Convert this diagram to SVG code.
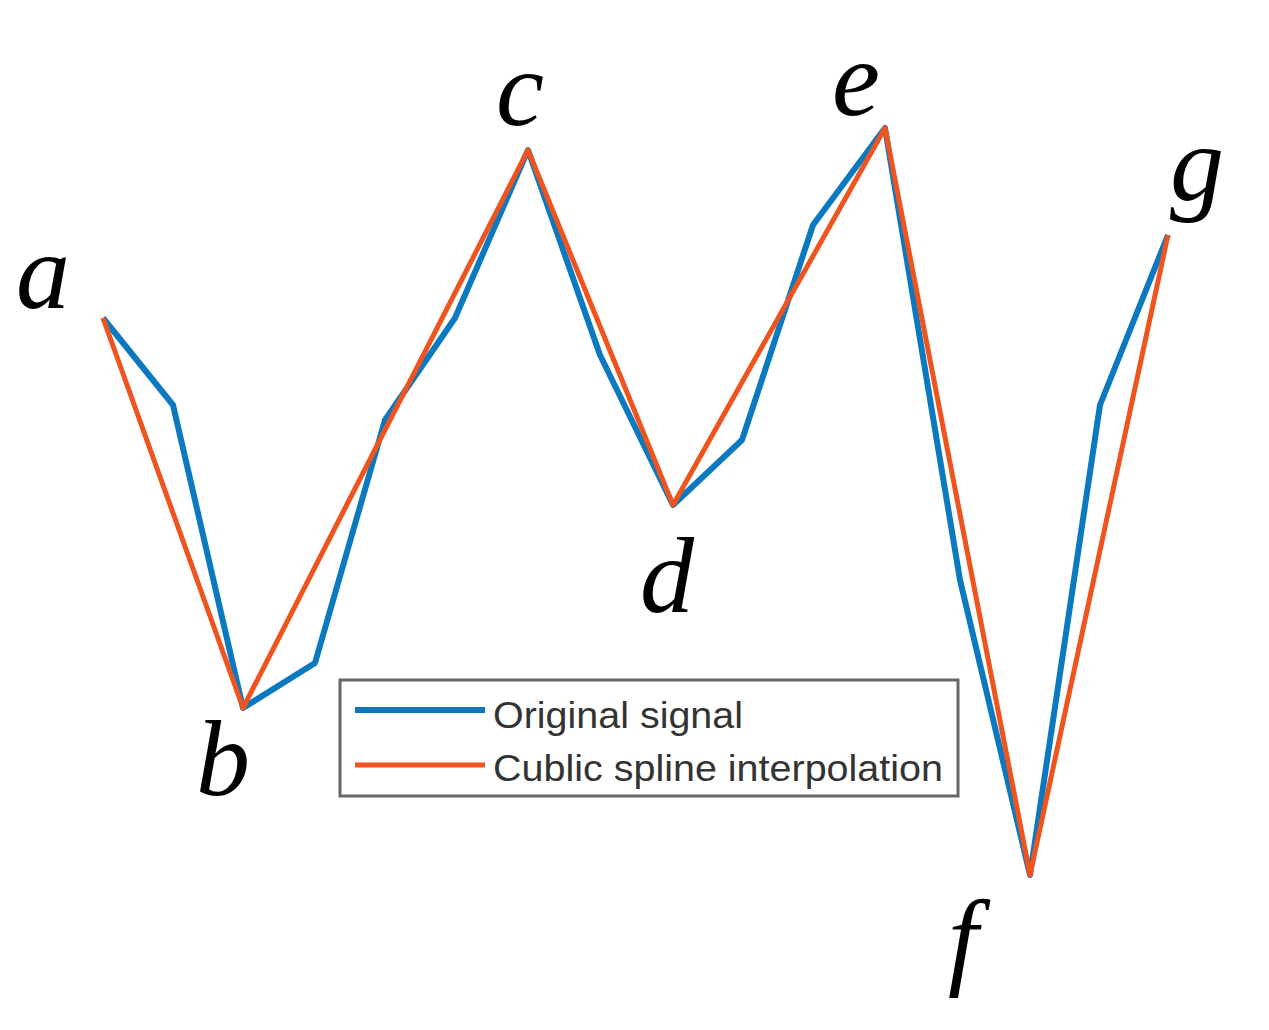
<svg xmlns="http://www.w3.org/2000/svg" width="1269" height="1030" viewBox="0 0 1269 1030">
<style>
.l{font-family:"Liberation Serif",serif;font-style:italic;font-size:108px;fill:#000}
.t{font-family:"Liberation Sans",sans-serif;font-size:36px;fill:#333}
.b{fill:none;stroke:#0b79c0;stroke-width:6;stroke-linejoin:round}
.o{fill:none;stroke:#f0541e;stroke-width:5;stroke-linejoin:round}
</style>
<rect width="1269" height="1030" fill="#fff"/>
<g id="curves">
<polyline class="b" points="103,318 173,405 243,708 315,663 385,420 455,318 528,150 600,355 673,505 742,440 813,225 885,128 960,580 1030,875 1100,405 1168,235"/>
<polyline class="o" points="103,318 243,708 528,150 673,505 885,128 1030,875 1168,235"/>
</g>
<g id="legend">
<rect x="340" y="680" width="618" height="116" fill="#fff" stroke="#666" stroke-width="3"/>
<line class="b" x1="355" y1="710" x2="485" y2="710"/>
<line class="o" x1="355" y1="765" x2="485" y2="765"/>
<text class="t" x="493" y="728" textLength="250" lengthAdjust="spacingAndGlyphs">Original signal</text>
<text class="t" x="493" y="781" textLength="450" lengthAdjust="spacingAndGlyphs">Cublic spline interpolation</text>
</g>
<g id="labels">
<text class="l" x="16" y="308">a</text>
<text class="l" x="196" y="795">b</text>
<text class="l" x="496" y="125">c</text>
<text class="l" x="640" y="612">d</text>
<text class="l" x="832" y="115" font-size="135">e</text>
<text class="l" x="948" y="975">f</text>
<text class="l" x="1170" y="200">g</text>
</g>
</svg>
